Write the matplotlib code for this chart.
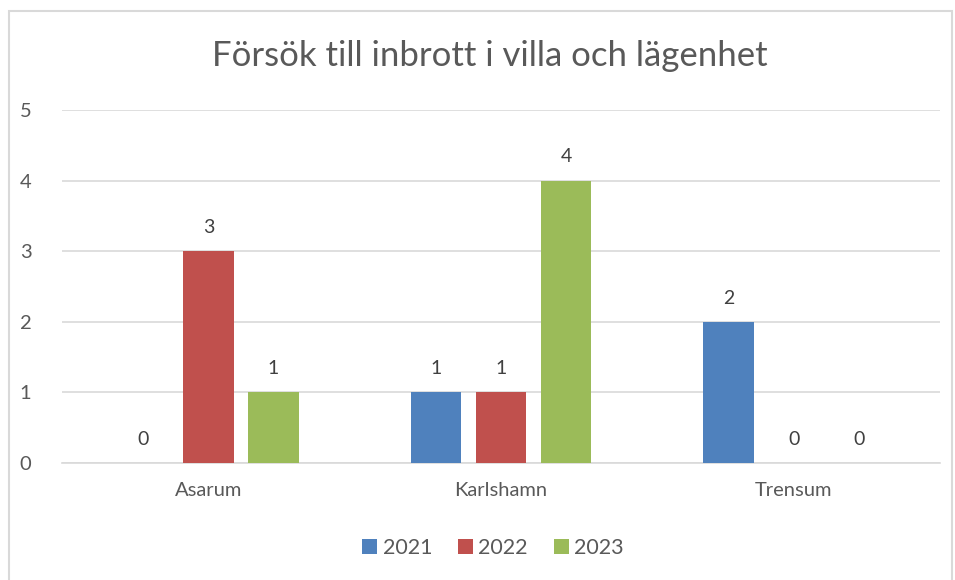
import matplotlib.pyplot as plt
import numpy as np
from matplotlib.patches import Rectangle

# data
categories = ['Asarum', 'Karlshamn', 'Trensum']
years = ['2021', '2022', '2023']
v2021 = [0, 1, 2]
v2022 = [3, 1, 0]
v2023 = [1, 4, 0]
colors = ['#4F81BD', '#C0504D', '#9BBB59']

plt.rcParams['font.family'] = ['Lato', 'DejaVu Sans']
txt = '#595959'

fig = plt.figure(figsize=(9.55, 5.8), dpi=100)
ax = fig.add_axes([62/955, 1 - 463/580, (940 - 62)/955, (463 - 110)/580])

# chart border (bottom edge is cut off in the reference)
fig.patches.append(Rectangle((9/955, -0.05), (952 - 9)/955, 1.05 - 11/580,
                             transform=fig.transFigure, fill=False,
                             edgecolor='#D9D9D9', linewidth=1.5))

x = np.arange(len(categories))
w = 0.174
step = 0.222
for i, (vals, yr) in enumerate(zip([v2021, v2022, v2023], years)):
    bars = ax.bar(x + (i - 1) * step, vals, w, color=colors[i], label=yr, zorder=3)
    for b, v in zip(bars, vals):
        ax.annotate(str(v), (b.get_x() + b.get_width()/2, v),
                    xytext=(0, 11), textcoords='offset points',
                    ha='center', va='bottom', fontsize=14, color='#404040')

ax.set_xlim(-0.5, 2.5)
ax.set_ylim(0, 5)
ax.set_yticks(range(6))
ax.yaxis.grid(True, color='#D9D9D9', linewidth=1.2, zorder=0)
ax.set_xticks(x)
ax.set_xticklabels(categories)
ax.tick_params(axis='both', length=0, labelsize=14.5, labelcolor=txt)
ax.tick_params(axis='x', pad=14)
ax.tick_params(axis='y', pad=22)
for s in ['top', 'right', 'left']:
    ax.spines[s].set_visible(False)
ax.spines['bottom'].set_color('#D9D9D9')
ax.spines['bottom'].set_linewidth(1.2)

fig.text(490/955, 1 - 56/580, 'Försök till inbrott i villa och lägenhet',
         ha='center', va='center', fontsize=25, color=txt)

leg = fig.legend(loc='center', bbox_to_anchor=(493/955, 1 - 548/580), ncol=3,
                 frameon=False, fontsize=15.5, handlelength=0.7, handleheight=0.7,
                 handletextpad=0.25, columnspacing=1.2)
for t in leg.get_texts():
    t.set_color(txt)

fig.savefig('out.png', dpi=100)
